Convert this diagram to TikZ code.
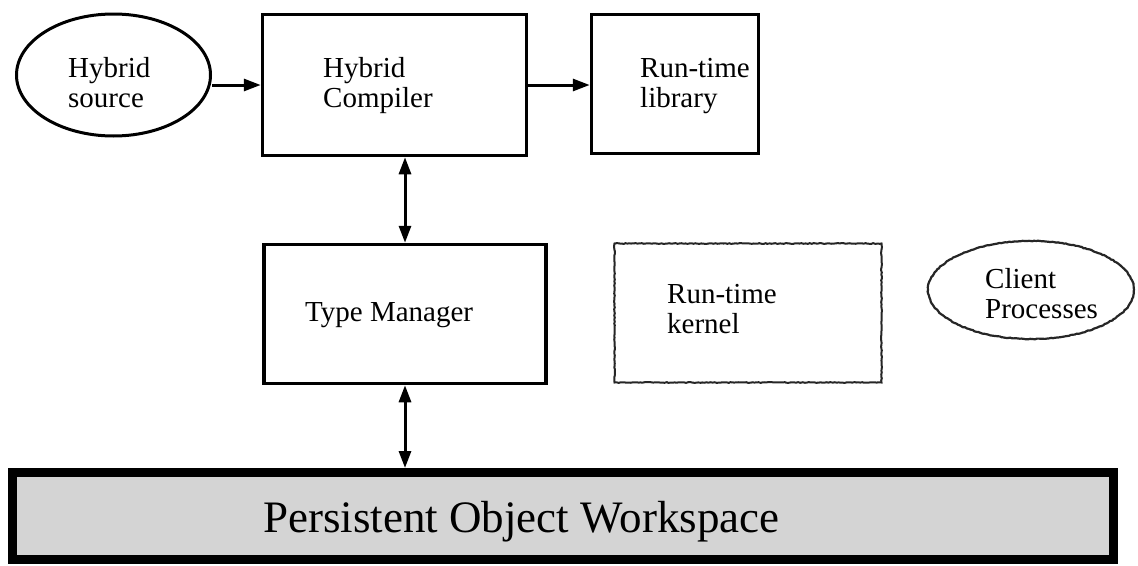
\documentclass[tikz,border=0pt]{standalone}
\usepackage{fontspec}
\setmainfont{Liberation Serif}
\usetikzlibrary{arrows.meta,shapes.geometric,decorations.pathmorphing}

\tikzset{
  box/.style={draw=black, line width=3.5pt, rectangle, inner sep=0pt},
  roughbox/.style={draw=black!85, line width=2pt, rectangle, inner sep=0pt,
    decorate, decoration={random steps, segment length=2pt, amplitude=0.4pt}},
  oval/.style={draw=black, line width=3pt, ellipse, inner sep=0pt},
  roughoval/.style={draw=black!85, line width=2.2pt, ellipse, inner sep=0pt,
    decorate, decoration={random steps, segment length=2pt, amplitude=0.4pt}},
  lbl/.style={inner sep=0pt, align=left, anchor=base west,
    font=\fontsize{29}{30}\selectfont},
  biglbl/.style={inner sep=0pt, anchor=base west,
    font=\fontsize{45}{48}\selectfont},
  conn/.style={line width=3pt, -{Triangle[length=17pt,width=12pt]}},
  biconn/.style={line width=3pt, {Triangle[length=17pt,width=12pt]}-{Triangle[length=17pt,width=12pt]}},
  workspace/.style={draw=black, line width=9pt, fill=black!17, rectangle, inner sep=0pt}
}

\begin{document}
\begin{tikzpicture}[x=1pt, y=-1pt]
  \useasboundingbox (0,0) rectangle (1138,565);

  % compiler tool chain
  \node[oval, minimum width=194pt, minimum height=122pt] (source) at (113.5,75) {};
  \node[box, minimum width=264pt, minimum height=141pt] (compiler) at (394.5,85) {};
  \node[box, minimum width=167pt, minimum height=139pt] (library) at (675,84) {};

  % run-time layer
  \node[box, minimum width=282pt, minimum height=139pt] (types) at (405,314) {};
  \node[roughbox, minimum width=267pt, minimum height=139pt] (kernel) at (748,313) {};
  \node[roughoval, minimum width=206pt, minimum height=98pt] (clients) at (1031,290) {};

  % shared store
  \node[workspace, minimum width=1101pt, minimum height=87pt] (store) at (563,516) {};

  % labels (anchored at the baseline of the last line)
  \node[lbl] (sourceTxt)   at (68,107)  {Hybrid\\source};
  \node[lbl] (compilerTxt) at (323,107) {Hybrid\\Compiler};
  \node[lbl] (libraryTxt)  at (640,107) {Run-time\\library};
  \node[lbl] (typesTxt)    at (305,321) {Type Manager};
  \node[lbl] (kernelTxt)   at (667,333) {Run-time\\kernel};
  \node[lbl] (clientsTxt)  at (985,318) {Client\\Processes};
  \node[biglbl] (storeTxt) at (263,532) {Persistent Object Workspace};

  % connectors
  \draw[conn] (source.east |- compiler.west) -- (compiler.west);
  \draw[conn] (compiler.east) -- (library.west |- compiler.east);
  \draw[biconn] (types.north |- compiler.south) -- (types.north);
  \draw[biconn] (types.south) -- (types.south |- store.north);
\end{tikzpicture}
\end{document}
